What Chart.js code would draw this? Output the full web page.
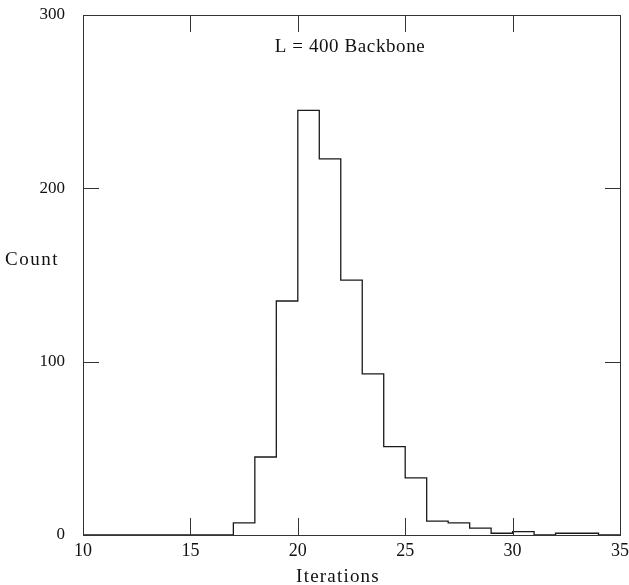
<!DOCTYPE html>
<html>
<head>
<meta charset="utf-8">
<script src="https://cdn.jsdelivr.net/npm/chart.js@4.4.1/dist/chart.umd.min.js"></script>
<style>
  html, body { margin: 0; padding: 0; background: #fff; }
  #wrap { position: relative; width: 629px; height: 585px; }
</style>
</head>
<body>
<div id="wrap"><canvas id="c" width="629" height="585"></canvas></div>
<script>
// Bin left edges (Iterations) and counts
const binEdges = [10, 11, 12, 13, 14, 15, 16, 17, 18, 19, 20, 21, 22, 23, 24, 25, 26, 27, 28, 29, 30, 31, 32, 33, 34, 35];
const counts   = [0, 0, 0, 0, 0, 0, 0, 7, 45, 135, 245, 217, 147, 93, 51, 33, 8, 7, 4, 1, 2, 0, 1, 1, 0, 0];
const xTicks = [10, 15, 20, 25, 30, 35];
const yTicks = [0, 100, 200, 300];
const titleText = 'L = 400 Backbone';
const xLabel = 'Iterations';
const yLabel = 'Count';

const points = binEdges.map((x, i) => ({ x: x, y: counts[i] }));
const serif = '"Liberation Serif", "DejaVu Serif", serif';

const framePlugin = {
  id: 'frame',
  afterDatasetsDraw(chart) {
    const { ctx, chartArea: a, scales } = chart;
    const xs = scales.x, ys = scales.y;
    ctx.save();
    ctx.strokeStyle = '#333';
    ctx.lineWidth = 1;
    ctx.strokeRect(Math.round(a.left) + 0.5, Math.round(a.top) + 0.5,
                   Math.round(a.right - a.left), Math.round(a.bottom - a.top));
    // inner ticks
    ctx.beginPath();
    xTicks.slice(1, -1).forEach(v => {
      const px = Math.round(xs.getPixelForValue(v)) + 0.5;
      ctx.moveTo(px, a.bottom); ctx.lineTo(px, a.bottom - 17);
      ctx.moveTo(px, a.top); ctx.lineTo(px, a.top + 17);
    });
    yTicks.slice(1, -1).forEach(v => {
      const py = Math.round(ys.getPixelForValue(v)) + 0.5;
      ctx.moveTo(a.left, py); ctx.lineTo(a.left + 16, py);
      ctx.moveTo(a.right, py); ctx.lineTo(a.right - 15, py);
    });
    ctx.stroke();
    // texts
    ctx.fillStyle = '#111';
    ctx.textBaseline = 'middle';
    ctx.textAlign = 'center';
    ctx.font = '19px ' + serif;
    ctx.letterSpacing = '0.6px';
    ctx.fillText(titleText, 350, 47);
    ctx.letterSpacing = '1.2px';
    ctx.fillText(xLabel, 338, 577);
    ctx.textAlign = 'left';
    ctx.letterSpacing = '1.5px';
    ctx.fillText(yLabel, 5, 260);
    ctx.restore();
  }
};

new Chart(document.getElementById('c'), {
  type: 'line',
  data: {
    datasets: [{
      data: points,
      stepped: 'before',
      borderColor: '#1a1a1a',
      borderWidth: 1.3,
      pointRadius: 0,
      fill: false
    }]
  },
  options: {
    responsive: false,
    animation: false,
    events: [],
    layout: { padding: { left: 0, right: 0, top: 0, bottom: 0 } },
    plugins: { legend: { display: false }, tooltip: { enabled: false } },
    scales: {
      x: {
        type: 'linear', min: 10, max: 35,
        afterBuildTicks(s) { s.ticks = xTicks.map(v => ({ value: v })); },
        afterFit(s) { s.height = 50; s.paddingRight = 9; s.paddingLeft = 0; },
        grid: { display: false },
        border: { display: false },
        ticks: { color: '#111', font: { family: serif, size: 18 }, padding: -3, maxRotation: 0 }
      },
      y: {
        type: 'linear', min: 0, max: 300,
        afterBuildTicks(s) { s.ticks = yTicks.map(v => ({ value: v })); },
        afterFit(s) { s.width = 83; s.paddingTop = 15; s.paddingBottom = 0; },
        grid: { display: false },
        border: { display: false },
        ticks: { color: '#111', font: { family: serif, size: 17 }, padding: 10 }
      }
    }
  },
  plugins: [framePlugin]
});
</script>
</body>
</html>
